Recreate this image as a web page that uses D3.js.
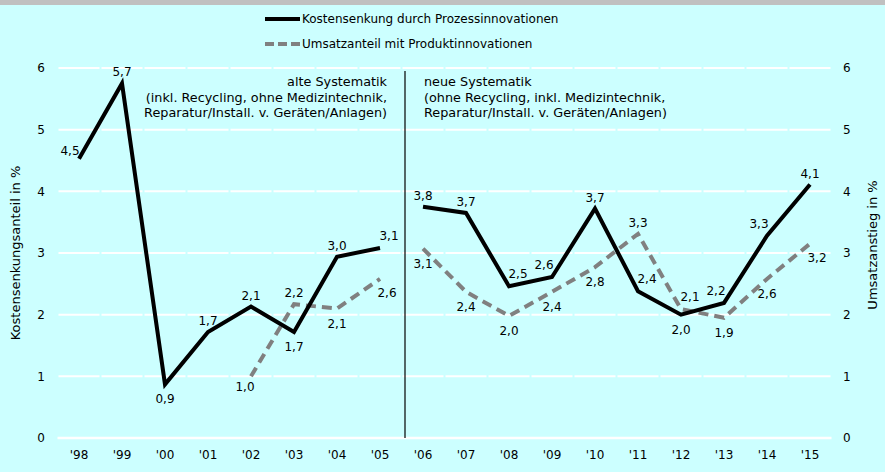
<!DOCTYPE html>
<html><head><meta charset="utf-8">
<script src="https://cdn.jsdelivr.net/npm/d3@7"></script>
<style>
html,body{margin:0;padding:0;background:#ccffff;}
svg{display:block;}
text{font-family:"DejaVu Sans",Verdana,sans-serif;fill:#000;}
</style></head><body>
<script>
// ---- data ----
const categories = ["'98","'99","'00","'01","'02","'03","'04","'05","'06","'07","'08","'09","'10","'11","'12","'13","'14","'15"];
const firstNewCategory = "'06";
const costValues = [4.53,5.75,0.87,1.72,2.13,1.72,2.94,3.08,3.75,3.65,2.46,2.61,3.72,2.38,2.00,2.19,3.28,4.11];
const costLabels = ["4,5","5,7","0,9","1,7","2,1","1,7","3,0","3,1","3,8","3,7","2,5","2,6","3,7","2,4","2,0","2,2","3,3","4,1"];
const salesValues = [null,null,null,null,1.00,2.17,2.10,2.58,3.07,2.37,1.98,2.37,2.77,3.31,2.09,1.95,2.58,3.15];
const salesLabels = [null,null,null,null,"1,0","2,2","2,1","2,6","3,1","2,4","2,0","2,4","2,8","3,3","2,1","1,9","2,6","3,2"];
const yTicks = [0,1,2,3,4,5,6];
const seriesNames = ["Kostensenkung durch Prozessinnovationen","Umsatzanteil mit Produktinnovationen"];
const axisTitles = ["Kostensenkungsanteil in %","Umsatzanstieg in %"];
const oldNote = ["alte Systematik","(inkl. Recycling, ohne Medizintechnik,","Reparatur/Install. v. Geräten/Anlagen)"];
const newNote = ["neue Systematik","(ohne Recycling, inkl. Medizintechnik,","Reparatur/Install. v. Geräten/Anlagen)"];
// label placement codes (a=above, b=below, al/ar/br/bl = shifted, l = left)
const costLabelPos = ["l","a","b","a","a","b","a","ar","a","a","ar","al","a","ar","b","al","al","a"];
const salesLabelPos = [null,null,null,null,"bl","a","b","br","b","b","b","b","b","a","ar","b","b","br"];

// ---- layout ----
const W = 885, H = 472;
const svg = d3.select("body").append("svg").attr("width", W).attr("height", H);
svg.append("rect").attr("width", W).attr("height", H).attr("fill", "#ccffff");
svg.append("rect").attr("width", W).attr("height", 5).attr("fill", "#c0c0c0");

const x = d3.scaleBand().domain(categories).range([57.5, 831.5]).padding(0);
const y = d3.scaleLinear().domain([0, 6]).range([438, 68]);
const cx = c => x(c) + x.bandwidth() / 2;

// gridlines (segmented per category)
const grid = svg.append("g");
yTicks.forEach(t => {
  if (t === 0) {
    grid.append("line").attr("x1", x.range()[0]).attr("x2", x.range()[1])
      .attr("y1", y(t)).attr("y2", y(t)).attr("stroke", "#fff").attr("stroke-width", 2.5);
  } else {
    categories.forEach(c => {
      grid.append("line").attr("x1", x(c) + 1).attr("x2", x(c) + x.bandwidth() - 1)
        .attr("y1", y(t)).attr("y2", y(t)).attr("stroke", "#fff").attr("stroke-width", 2);
    });
  }
});

// axes
const leftAxis = d3.axisLeft(y).tickValues(yTicks).tickSize(0).tickPadding(0).tickFormat(d3.format("d"));
const gl = svg.append("g").attr("transform", "translate(45,0)").call(leftAxis);
const rightAxis = d3.axisRight(y).tickValues(yTicks).tickSize(0).tickPadding(0).tickFormat(d3.format("d"));
const gr = svg.append("g").attr("transform", "translate(843,0)").call(rightAxis);
const bottomAxis = d3.axisBottom(x).tickSize(0).tickPadding(0);
const gb = svg.append("g").attr("transform", "translate(0,450)").call(bottomAxis);
[gl, gr, gb].forEach(g => {
  g.select(".domain").remove();
  g.selectAll("text").style("font-family", "DejaVu Sans, Verdana, sans-serif").style("font-size", "12px").attr("fill", "#000");
});

// axis titles
svg.append("text").attr("transform", "translate(20,253) rotate(-90)").attr("text-anchor", "middle")
  .style("font-size", "13px").text(axisTitles[0]);
svg.append("text").attr("transform", "translate(877,245) rotate(-90)").attr("text-anchor", "middle")
  .style("font-size", "13px").text(axisTitles[1]);

// separator
const sepX = x(firstNewCategory) + 3.5;
svg.append("line").attr("x1", sepX).attr("x2", sepX).attr("y1", 71).attr("y2", y(0))
  .attr("stroke", "#000").attr("stroke-width", 1.2);

// notes
const noteOld = svg.append("text").attr("text-anchor", "end").style("font-size", "12.8px");
oldNote.forEach((s, i) => noteOld.append("tspan").attr("x", sepX - 18).attr("y", 86 + i * 15.5).text(s));
const noteNew = svg.append("text").attr("text-anchor", "start").style("font-size", "12.8px");
newNote.forEach((s, i) => noteNew.append("tspan").attr("x", sepX + 19).attr("y", 86 + i * 15.5).text(s));

// lines
const splitIdx = categories.indexOf(firstNewCategory);
function drawSeries(vals, color, dash) {
  const pts = categories.map((c, i) => ({c, v: vals[i], i}));
  const segs = [pts.slice(0, splitIdx), pts.slice(splitIdx)];
  const line = d3.line().defined(d => d.v != null).x(d => cx(d.c)).y(d => y(d.v));
  segs.forEach(s => {
    svg.append("path").datum(s).attr("d", line).attr("fill", "none")
      .attr("stroke", color).attr("stroke-width", 4).attr("stroke-linejoin", "miter")
      .attr("stroke-dasharray", dash || null);
  });
}
drawSeries(salesValues, "#808080", "10,6");
drawSeries(costValues, "#000", null);

// labels
const off = {a:[0,-7], b:[0,19], ar:[9,-8], al:[-8,-8], br:[7,18], bl:[-6,15], l:[-9,-4]};
function drawLabels(vals, labels, pos) {
  categories.forEach((c, i) => {
    if (vals[i] == null) return;
    const o = off[pos[i]];
    svg.append("text").attr("x", cx(c) + o[0]).attr("y", y(vals[i]) + o[1])
      .attr("text-anchor", "middle").style("font-size", "12px").text(labels[i]);
  });
}
drawLabels(costValues, costLabels, costLabelPos);
drawLabels(salesValues, salesLabels, salesLabelPos);

// legend
const lg = svg.append("g");
lg.append("line").attr("x1", 265).attr("x2", 300).attr("y1", 19).attr("y2", 19).attr("stroke", "#000").attr("stroke-width", 4);
lg.append("text").attr("x", 302).attr("y", 23).style("font-size", "12px").text(seriesNames[0]);
lg.append("line").attr("x1", 265).attr("x2", 300).attr("y1", 44).attr("y2", 44).attr("stroke", "#808080").attr("stroke-width", 4).attr("stroke-dasharray", "9,4");
lg.append("text").attr("x", 302).attr("y", 48).style("font-size", "12px").text(seriesNames[1]);
</script>
</body></html>
